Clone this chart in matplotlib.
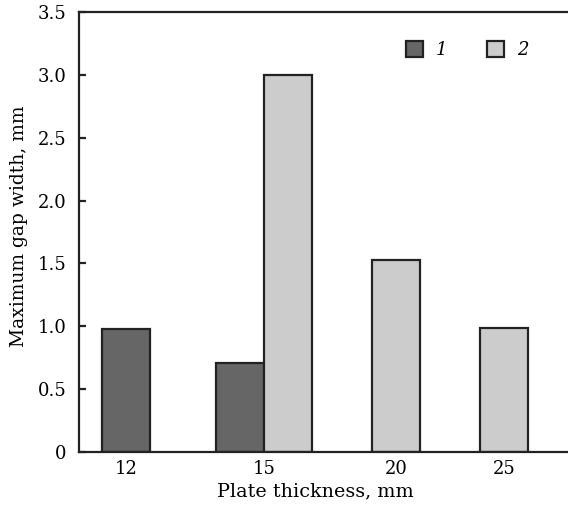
import numpy as np
import matplotlib.pyplot as plt
from matplotlib.ticker import FixedLocator, FixedFormatter

thickness = ['12', '15', '20', '25']
gap_1 = [0.98, 0.71, 0, 0]      # series 1
gap_2 = [0, 3.0, 1.53, 0.99]    # series 2
yticks = [0, 0.5, 1.0, 1.5, 2.0, 2.5, 3.0, 3.5]
ytick_labels = ['0', '0.5', '1.0', '1.5', '2.0', '2.5', '3.0', '3.5']

plt.rcParams['font.family'] = ['DejaVu Serif']

# layout: group centres (bar width = 1)
pos = np.array([0.98, 3.85, 6.6, 8.86])
has1 = np.array(gap_1) > 0
has2 = np.array(gap_2) > 0
both = has1 & has2
off1 = np.where(both, -0.5, 0)
off2 = np.where(both, 0.5, 0)

fig = plt.figure(figsize=(5.68, 5.05), dpi=100)
ax = fig.add_axes([79/568, 53/505, 1 - 79/568, 440/505])

ec = '#222222'
b1 = ax.bar((pos + off1)[has1], np.array(gap_1)[has1], width=1, color='#666666',
            edgecolor=ec, linewidth=1.6, label='1')
b2 = ax.bar((pos + off2)[has2], np.array(gap_2)[has2], width=1, color='#cccccc',
            edgecolor=ec, linewidth=1.6, label='2')

ax.set_xlim(0, 489/48)
ax.set_ylim(0, 3.5)
ax.set_xticks(pos)
ax.set_xticklabels(thickness)
ax.yaxis.set_major_locator(FixedLocator(yticks))
ax.yaxis.set_major_formatter(FixedFormatter(ytick_labels))
ax.tick_params(axis='y', direction='in', length=5, width=1.6, labelsize=13, pad=9, colors='#222222', labelcolor='black')
ax.tick_params(axis='x', length=0, labelsize=13, pad=6)

for s in ['left', 'top', 'bottom']:
    ax.spines[s].set_linewidth(1.6)
    ax.spines[s].set_color('#222222')
ax.spines['right'].set_visible(False)

ax.set_xlabel('Plate thickness, mm', fontsize=13.8)
ax.set_ylabel('Maximum gap width, mm', fontsize=13.5)
ax.xaxis.set_label_coords(0.483, -0.068)
ax.yaxis.set_label_coords(-0.105, 0.514)

ax.legend(ncol=2, loc='center', bbox_to_anchor=(467/568, 455/505), bbox_transform=fig.transFigure,
          frameon=False, handlelength=0.95, handleheight=0.95, handletextpad=0.7,
          columnspacing=2.2, prop={'style': 'italic', 'size': 13})

plt.savefig('out.png', dpi=100)
